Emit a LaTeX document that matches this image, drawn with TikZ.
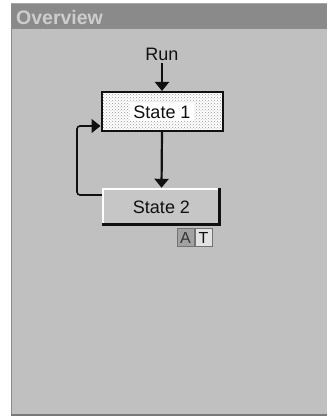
\documentclass[tikz,border=0pt]{standalone}
\usepackage{fontspec}
\setmainfont{Liberation Sans}
\usetikzlibrary{arrows.meta,patterns}
\definecolor{panelbg}{HTML}{C0C0C0}
\definecolor{titlebg}{HTML}{8A8A8A}
\definecolor{titletxt}{HTML}{CDCDCD}
\definecolor{btnfill}{HTML}{C6C6C6}
\definecolor{ink}{HTML}{101010}
\definecolor{badgedark}{HTML}{A2A2A2}
\definecolor{badgelight}{HTML}{E2E2E2}
\tikzset{
  lbl/.style={font=\fontsize{18}{20}\selectfont, text=ink, inner sep=0pt},
  s1box/.style={rectangle, minimum width=121pt, minimum height=39pt, inner sep=0pt,
    preaction={fill=white}, pattern=crosshatch dots, pattern color=gray!80,
    draw=ink, line width=2pt},
  s1lbl/.style={lbl, fill=white, inner xsep=3pt, inner ysep=3pt},
  s2box/.style={rectangle, minimum width=119pt, minimum height=38pt, inner sep=0pt, fill=btnfill},
  badge/.style={rectangle, minimum width=17pt, minimum height=18pt, inner sep=0pt,
    draw=gray!90!black, line width=1pt, font=\fontsize{16}{18}\selectfont},
  flow/.style={draw=ink, line width=2.2pt, -{Triangle[width=14pt,length=9pt]}},
  loopline/.style={draw=ink, line width=1.6pt, rounded corners=3pt, -{Triangle[width=14pt,length=9pt]}},
}
\begin{document}
\begin{tikzpicture}[x=1pt,y=1pt]
\useasboundingbox (0,0) rectangle (327,417);
\fill[white] (0,0) rectangle (327,417);
% panel
\fill[panelbg] (11,1) rectangle (327,413);
\fill[titlebg] (11,388) rectangle (327,413);
\fill[gray!70] (11,412.5) rectangle (327,413.5);
\fill[gray!90] (11,1) rectangle (12,388);
\fill[gray!95!black] (11,0.5) rectangle (327,3);
\node[anchor=base west, inner sep=0pt, font=\bfseries\fontsize{19.5}{22}\selectfont, text=titletxt] (title) at (16,392) {Overview};
% nodes
\node[lbl] (run) at (162,363) {Run};
\node[s1box] (s1) at (162,305.5) {};
\node[s1lbl] (s1t) at (162,305) {State 1};
\node[s2box] (s2) at (161.5,210) {};
\node[lbl] (s2t) at (161.5,210) {State 2};
% 3D edges of State 2
\draw[white, line width=2pt] ([xshift=1pt,yshift=1pt]s2.south west) -- ([xshift=1pt,yshift=-1pt]s2.north west) -- ([xshift=-1pt,yshift=-1pt]s2.north east);
\draw[ink, line width=3pt] ([xshift=-1.5pt]s2.north east) -- ([xshift=-1.5pt,yshift=1.5pt]s2.south east) -- ([yshift=1.5pt]s2.south west);
% badges
\node[badge, fill=badgedark, text=ink!85] (ba) at (185.5,179) {A};
\node[badge, fill=badgelight, text=ink] (bt) at (203.5,179) {T};
% connectors
\draw[flow, line width=2pt] ([yshift=-3pt]run.south) -- (s1.north);
\draw[flow] (s1.south) -- (s2.north);
\coordinate (lb) at (77,222);
\coordinate (lt) at (77,291);
\draw[loopline] (s2.west |- lb) -- (lb) -- (lt) -- (s1.west |- lt);
\end{tikzpicture}
\end{document}
